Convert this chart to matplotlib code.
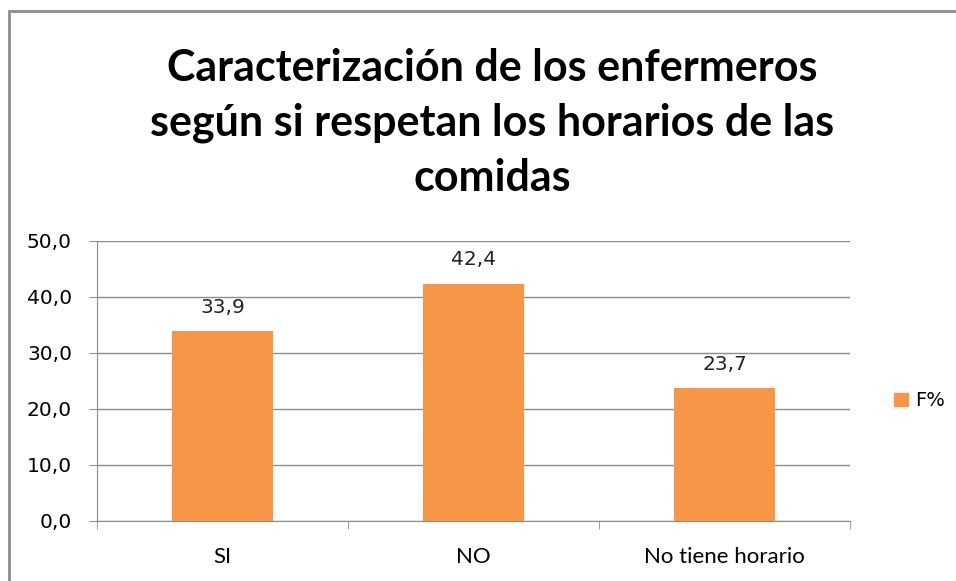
import matplotlib.pyplot as plt
import matplotlib.patches as mpatches
import numpy as np

categorias = ["SI", "NO", "No tiene horario"]
valores = [33.9, 42.4, 23.7]
serie = "F%"
titulo = "Caracterización de los enfermeros\nsegún si respetan los horarios de las\ncomidas"

naranja = "#F79646"
gris = "#8C8C8C"

fig = plt.figure(figsize=(9.56, 5.81), dpi=100)
ax = fig.add_axes([97/956, 1-521/581, (850-97)/956, (521-241)/581])

x = np.arange(len(categorias))
barras = ax.bar(x, valores, width=0.4, color=naranja, label=serie, zorder=3)

for xi, v in zip(x, valores):
    ax.text(xi, v + 2.6, f"{v:.1f}".replace(".", ","), ha="center", va="bottom",
            fontsize=14.5, color="#222222", family="DejaVu Sans")

ax.set_xlim(-0.5, len(categorias) - 0.5)
ax.set_ylim(0, 50)
ax.set_yticks(range(0, 51, 10))
ax.set_yticklabels([f"{t:.1f}".replace(".", ",") for t in range(0, 51, 10)],
                   fontsize=14.5, family="DejaVu Sans")
ax.yaxis.grid(True, color=gris, linewidth=1, zorder=0)

ax.set_xticks(x)
ax.set_xticklabels(categorias, fontsize=16, family="Lato")
ax.tick_params(axis="x", length=0, pad=19)
ax.set_xticks(np.arange(-0.5, len(categorias), 1), minor=True)
ax.tick_params(axis="x", which="minor", length=6, color=gris)
ax.tick_params(axis="y", length=6, color=gris, pad=12)

for s in ["top", "right"]:
    ax.spines[s].set_visible(False)
ax.spines["left"].set_color(gris)
ax.spines["bottom"].set_color(gris)

fig.text(0.515, 1 - 123/581, titulo, ha="center", va="center", fontsize=31,
         fontweight="bold", family="Lato", linespacing=1.45)

leg = fig.legend(handles=[mpatches.Patch(color=naranja, label=serie)],
                 loc="center left", bbox_to_anchor=(0.917, 0.31), frameon=False,
                 fontsize=14, handlelength=0.7, handleheight=0.7, handletextpad=0.4)

# marco del grafico
fig.patches.append(mpatches.Rectangle((9/956, -0.05), 1.2, 1 - 11/581 + 0.05,
                   transform=fig.transFigure, fill=False, edgecolor=gris,
                   linewidth=2))

fig.savefig("out.png", dpi=100)
